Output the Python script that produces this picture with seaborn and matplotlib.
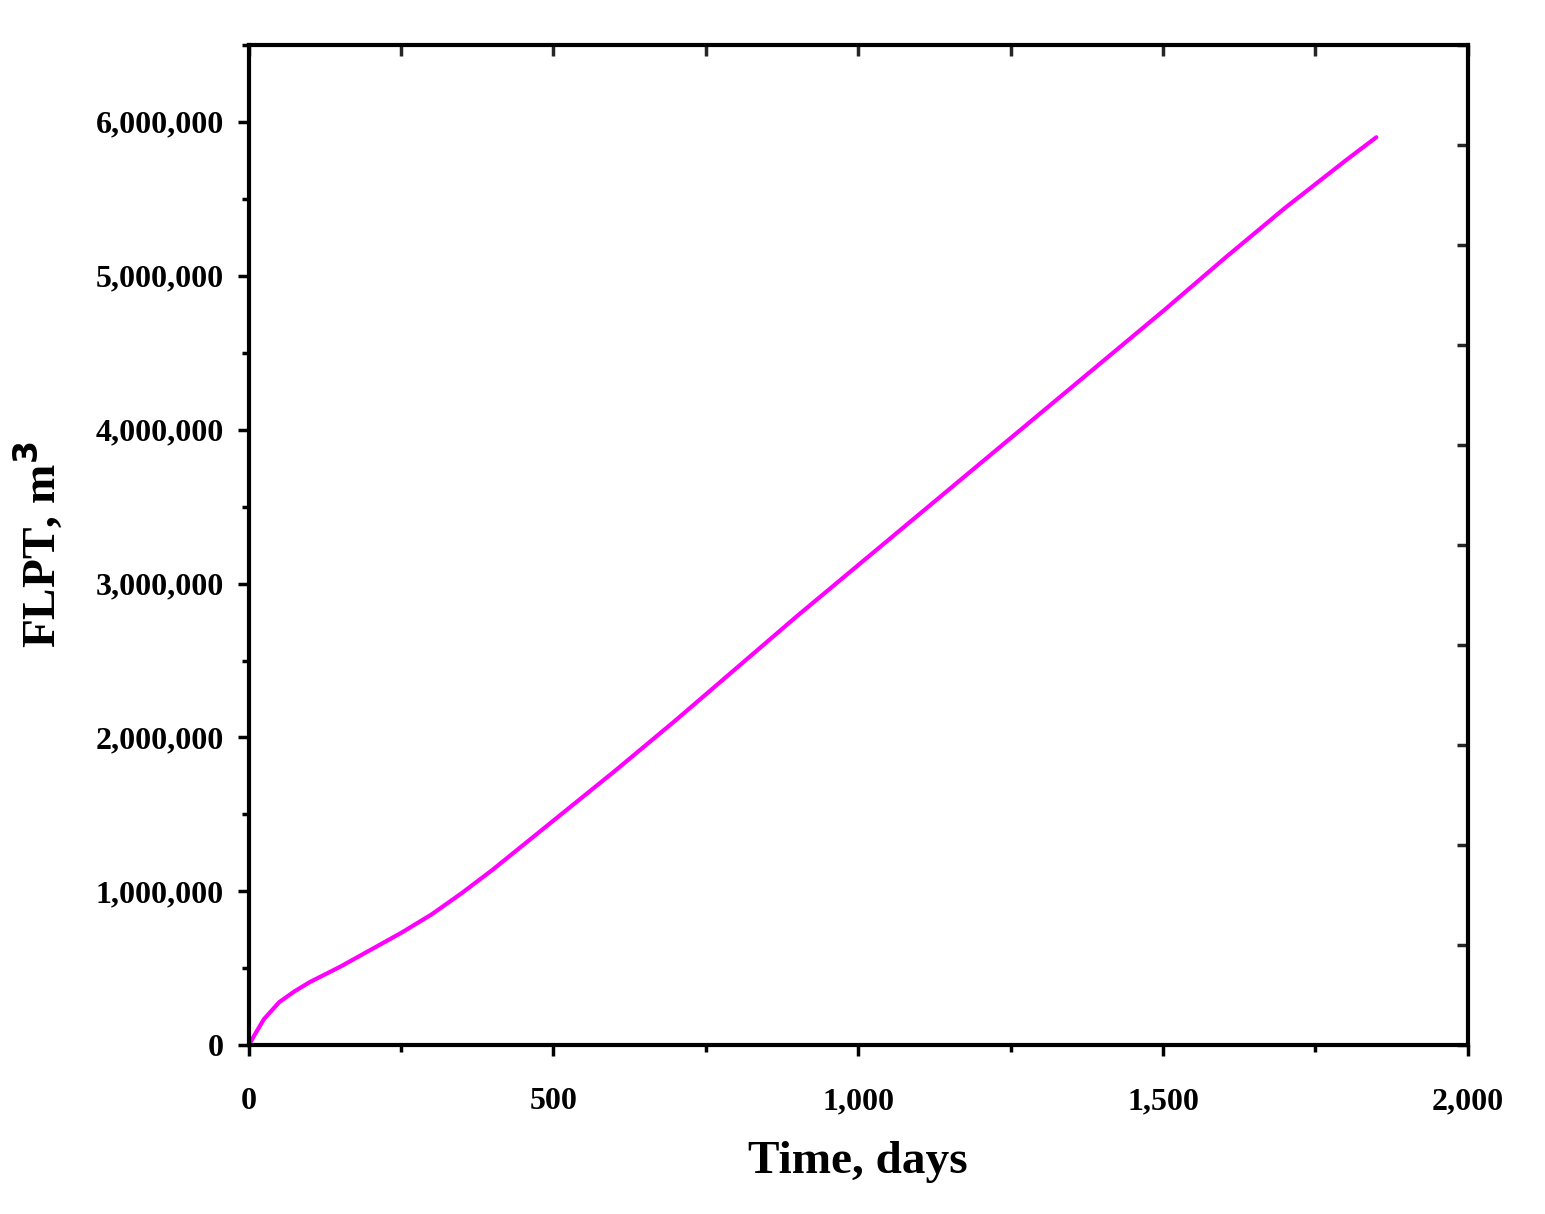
import matplotlib
matplotlib.use("Agg")
import matplotlib.pyplot as plt
import seaborn as sns
import pandas as pd
from matplotlib.ticker import FuncFormatter, MultipleLocator

# values
time_days = [0, 10, 25, 50, 75, 100, 125, 150, 200, 250, 300, 350, 400, 500, 600, 700, 800, 900,
             1000, 1100, 1200, 1300, 1400, 1500, 1600, 1700, 1800, 1850]
flpt_m3 = [0, 70000, 170000, 280000, 350000, 410000, 460000, 510000, 620000, 730000, 850000,
           990000, 1140000, 1460000, 1780000, 2110000, 2450000, 2790000,
           3120000, 3450000, 3780000, 4110000, 4440000, 4770000, 5110000, 5440000, 5750000, 5900000]

df = pd.DataFrame({"time": time_days, "flpt": flpt_m3})

sns.set_style("ticks")
plt.rcParams["font.family"] = ["Liberation Serif", "DejaVu Serif"]
plt.rcParams["font.weight"] = "bold"
plt.rcParams["text.color"] = "black"
plt.rcParams["axes.labelcolor"] = "black"

fig = plt.figure(figsize=(15.45, 12.14), dpi=100)
ax = fig.add_axes([0.161, 0.139, 0.789, 0.824])
sns.lineplot(data=df, x="time", y="flpt", ax=ax, color="#ff00ff", linewidth=3)

ax.set_xlim(0, 2000)
ax.set_ylim(0, 6500000)
ax.xaxis.set_major_locator(MultipleLocator(500))
ax.xaxis.set_minor_locator(MultipleLocator(250))
ax.yaxis.set_major_locator(MultipleLocator(1000000))
ax.yaxis.set_minor_locator(MultipleLocator(500000))
ax.xaxis.set_major_formatter(FuncFormatter(lambda v, p: f"{int(v):,}"))
ax.yaxis.set_major_formatter(FuncFormatter(lambda v, p: f"{int(v):,}"))
ax.tick_params(which="both", direction="out", width=2.5, labelsize=23, colors="black")
ax.tick_params(axis="x", which="major", pad=22)
ax.tick_params(axis="y", which="major", pad=10)
ax.tick_params(which="major", length=8)
ax.tick_params(which="minor", length=5)

# inward ticks on top and right, like the reference
sec_x = ax.secondary_xaxis("top")
sec_x.xaxis.set_major_locator(MultipleLocator(250))
sec_x.tick_params(direction="in", length=8, width=2.5, labeltop=False)
sec_y = ax.secondary_yaxis("right")
sec_y.yaxis.set_major_locator(MultipleLocator(650000))
sec_y.tick_params(direction="in", length=8, width=2.5, labelright=False)

for s in ax.spines.values():
    s.set_linewidth(3)
    s.set_color("black")
for lab in ax.get_xticklabels() + ax.get_yticklabels():
    lab.set_fontweight("bold")

ax.set_xlabel("Time, days", fontsize=34, fontweight="bold", labelpad=18)
ax.set_ylabel("FLPT, m$^\\mathbf{3}$", fontsize=34, fontweight="bold", labelpad=22)

fig.savefig("out.png", dpi=100)
